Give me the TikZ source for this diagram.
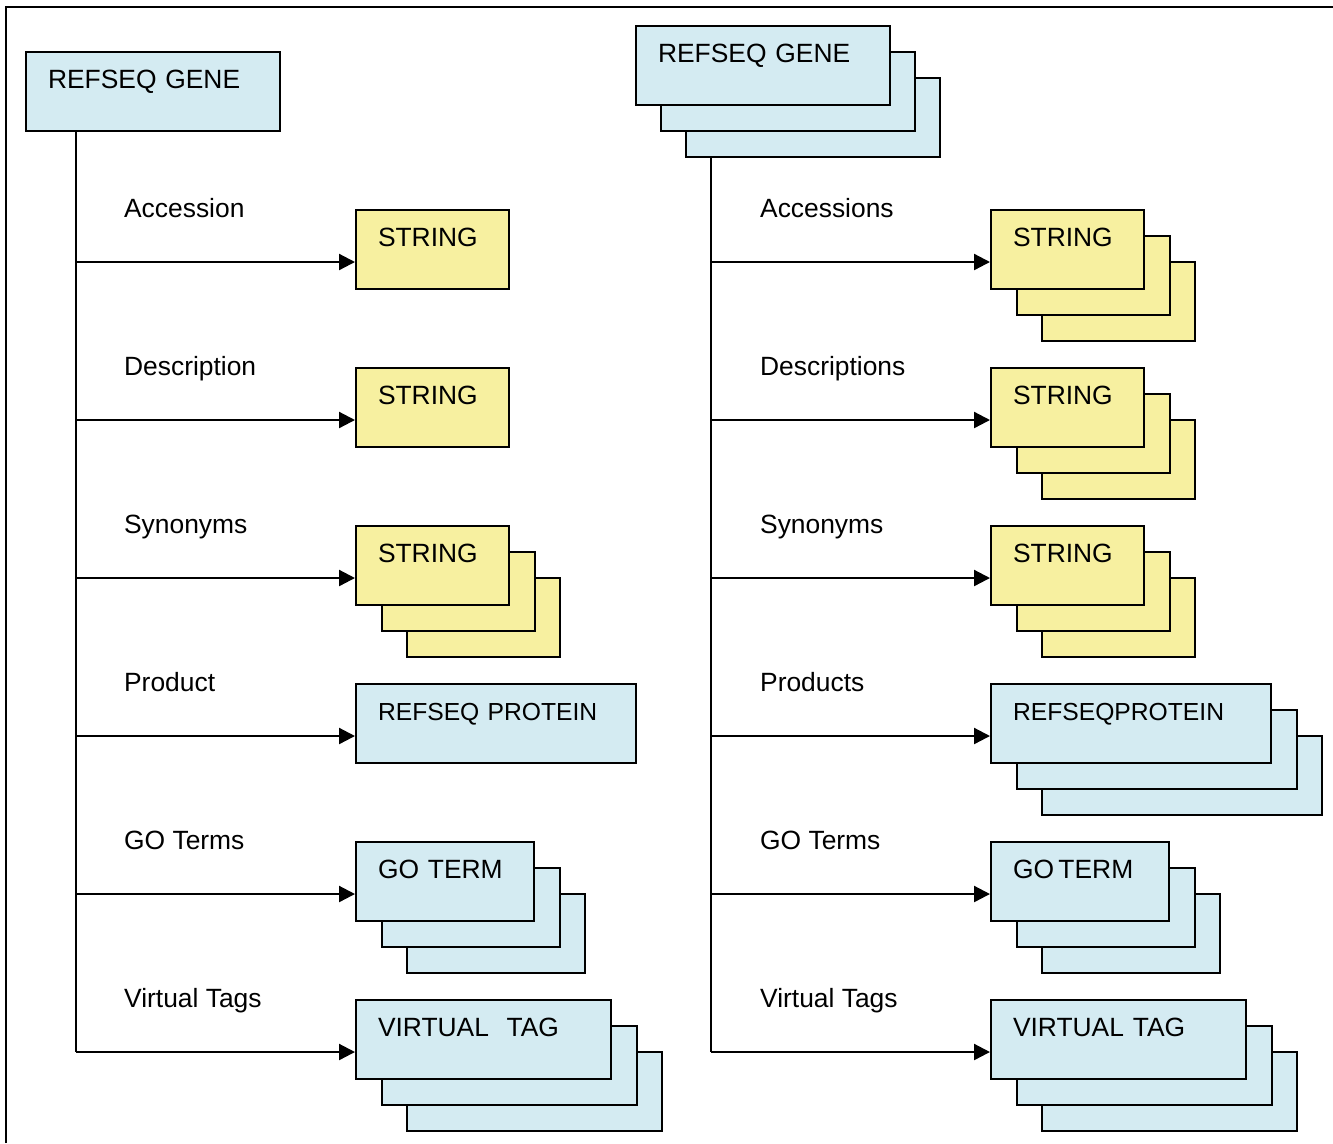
\documentclass[tikz,border=0pt]{standalone}
\usepackage{fontspec}
\setmainfont{Liberation Sans}
\usetikzlibrary{arrows.meta}
\definecolor{geneblue}{RGB}{212,235,242}
\definecolor{stryellow}{RGB}{247,240,160}

\begin{document}
\begin{tikzpicture}[x=0.75pt, y=-0.75pt, line width=1.7pt,
        every node/.append style={font=\fontsize{19.8}{23}\selectfont},
        tip/.style={-{Triangle[length=12pt,width=12pt]}}]
      \tikzstyle{word} = [anchor=base west, inner sep=0pt]
      \tikzstyle{box} = [draw, line width=1.5pt, anchor=north west, align=left,
        inner xsep=16.5pt, inner ysep=0pt, text height=27pt, text depth=32.25pt]
      \tikzstyle{blue box} = [box, fill=geneblue]
      \tikzstyle{yellow box} = [box, fill=stryellow]
      \tikzstyle{narrow} = [font=\fontsize{18.5}{22}\selectfont]
      \useasboundingbox (0,0) rectangle (1333,1143);
      \draw[line width=1.2pt] (6,1143) -- (6,7) -- (1333,7);

      % one gene
      \node (gene) [blue box, text width=157.5pt] at (25,51) {REFSEQ GENE};
      \node (acc) [yellow box, text width=81.75pt] at (355,209) {STRING};
      \node (desc) [yellow box, text width=81.75pt] at (355,367) {STRING};
      \node (syn3) [yellow box, text width=81.75pt] at (406,577) {};
      \node (syn2) [yellow box, text width=81.75pt] at (381,551) {};
      \node (syn) [yellow box, text width=81.75pt] at (355,525) {STRING};
      \node (prod) [blue box, narrow, text width=177pt] at (355,683) {\mbox{REFSEQ PROTEIN}};
      \node (go3) [blue box, text width=100.5pt] at (406,893) {};
      \node (go2) [blue box, text width=100.5pt] at (381,867) {};
      \node (go) [blue box, text width=100.5pt] at (355,841) {GO TERM};
      \node (vtag3) [blue box, text width=158.25pt] at (406,1051) {};
      \node (vtag2) [blue box, text width=158.25pt] at (381,1025) {};
      \node (vtag) [blue box, text width=158.25pt] at (355,999) {\mbox{VIRTUAL~~TAG}};

      \node (lacc) [word] at (123,217) {Accession};
      \node (ldesc) [word] at (123,375) {Description};
      \node (lsyn) [word] at (123,533) {Synonyms};
      \node (lprod) [word] at (123,691) {Product};
      \node (lgo) [word] at (123,849) {GO Terms};
      \node (lvtag) [word] at (123,1007) {Virtual Tags};

      \coordinate (top) at (76,130);
      \coordinate (b1) at (76,262);
      \coordinate (b2) at (76,420);
      \coordinate (b3) at (76,578);
      \coordinate (b4) at (76,736);
      \coordinate (b5) at (76,894);
      \coordinate (b6) at (76,1052);
      \draw (top) -- (b6);
      \draw[tip] (b1) -- (b1 -| acc.west);
      \draw[tip] (b2) -- (b2 -| desc.west);
      \draw[tip] (b3) -- (b3 -| syn.west);
      \draw[tip] (b4) -- (b4 -| prod.west);
      \draw[tip] (b5) -- (b5 -| go.west);
      \draw[tip] (b6) -- (b6 -| vtag.west);

      % many genes
      \node (genes3) [blue box, text width=157.5pt] at (685,77) {};
      \node (genes2) [blue box, text width=157.5pt] at (660,51) {};
      \node (genes) [blue box, text width=157.5pt] at (635,25) {REFSEQ GENE};
      \node (accs3) [yellow box, text width=81.75pt] at (1041,261) {};
      \node (accs2) [yellow box, text width=81.75pt] at (1016,235) {};
      \node (accs) [yellow box, text width=81.75pt] at (990,209) {STRING};
      \node (descs3) [yellow box, text width=81.75pt] at (1041,419) {};
      \node (descs2) [yellow box, text width=81.75pt] at (1016,393) {};
      \node (descs) [yellow box, text width=81.75pt] at (990,367) {STRING};
      \node (syns3) [yellow box, text width=81.75pt] at (1041,577) {};
      \node (syns2) [yellow box, text width=81.75pt] at (1016,551) {};
      \node (syns) [yellow box, text width=81.75pt] at (990,525) {STRING};
      \node (prods3) [blue box, text width=177pt] at (1041,735) {};
      \node (prods2) [blue box, text width=177pt] at (1016,709) {};
      \node (prods) [blue box, narrow, text width=177pt] at (990,683) {REFSEQPROTEIN};
      \node (gos3) [blue box, text width=100.5pt] at (1041,893) {};
      \node (gos2) [blue box, text width=100.5pt] at (1016,867) {};
      \node (gos) [blue box, text width=100.5pt] at (990,841) {GO\,TERM};
      \node (vtags3) [blue box, text width=158.25pt] at (1041,1051) {};
      \node (vtags2) [blue box, text width=158.25pt] at (1016,1025) {};
      \node (vtags) [blue box, text width=158.25pt] at (990,999) {VIRTUAL TAG};

      \node (laccs) [word] at (759,217) {Accessions};
      \node (ldescs) [word] at (759,375) {Descriptions};
      \node (lsyns) [word] at (759,533) {Synonyms};
      \node (lprods) [word] at (759,691) {Products};
      \node (lgos) [word] at (759,849) {GO Terms};
      \node (lvtags) [word] at (759,1007) {Virtual Tags};

      \coordinate (tops) at (711,156);
      \coordinate (c1) at (711,262);
      \coordinate (c2) at (711,420);
      \coordinate (c3) at (711,578);
      \coordinate (c4) at (711,736);
      \coordinate (c5) at (711,894);
      \coordinate (c6) at (711,1052);
      \draw (tops) -- (c6);
      \draw[tip] (c1) -- (c1 -| accs.west);
      \draw[tip] (c2) -- (c2 -| descs.west);
      \draw[tip] (c3) -- (c3 -| syns.west);
      \draw[tip] (c4) -- (c4 -| prods.west);
      \draw[tip] (c5) -- (c5 -| gos.west);
      \draw[tip] (c6) -- (c6 -| vtags.west);
    \end{tikzpicture}
\end{document}
